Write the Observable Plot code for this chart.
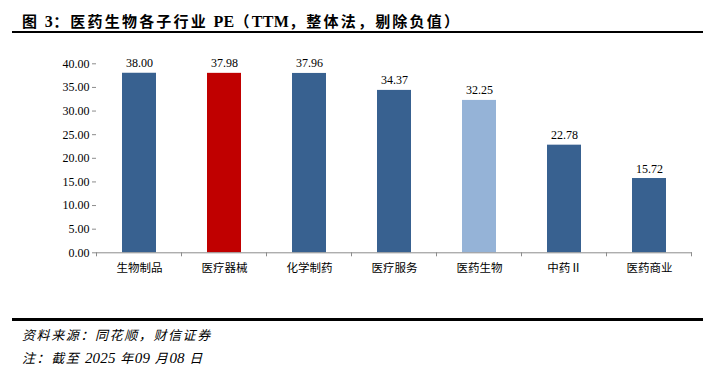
<!DOCTYPE html>
<html>
<head>
<meta charset="utf-8">
<script src="https://cdn.jsdelivr.net/npm/d3@7"></script>
<script src="https://cdn.jsdelivr.net/npm/@observablehq/plot@0.6"></script>
<style>
  html, body { margin: 0; padding: 0; background: #fff; }
  #wrap { position: relative; width: 716px; height: 378px; overflow: hidden; }
  #title { position: absolute; left: 22px; top: 10px; font-family: "Noto Sans CJK SC", "Liberation Serif", serif; font-weight: bold; font-size: 15px; letter-spacing: 2.2px; color: #000; white-space: nowrap; }
  #title .num { font-family: "Liberation Serif", serif; font-size: 16px; letter-spacing: 0.3px; }
  .rule { position: absolute; left: 12px; width: 691px; background: #000; }
  #chart { position: absolute; left: 0; top: 40px; }
  .cap { position: absolute; left: 22px; font-family: "Noto Sans CJK SC", serif; font-style: italic; font-size: 13px; letter-spacing: 1.6px; color: #000; white-space: nowrap; }
  .cap .num { font-family: "Liberation Serif", serif; font-size: 15px; letter-spacing: 0.2px; }
</style>
</head>
<body>
<div id="wrap">
  <div id="title">图 <span class="num">3</span>：医药生物各子行业 <span class="num">PE</span>（<span class="num">TTM</span>，整体法，剔除负值）</div>
  <div class="rule" style="top:31px;height:2px;"></div>
  <div id="chart"></div>
  <div class="rule" style="top:318px;height:3px;"></div>
  <div class="cap" style="top:325px;">资料来源：同花顺，财信证券</div>
  <div class="cap" style="top:348px;">注：截至 <span class="num">2025</span> 年<span class="num">09</span> 月<span class="num">08</span> 日</div>
</div>
<script>
const categories = ["生物制品", "医疗器械", "化学制药", "医疗服务", "医药生物", "中药Ⅱ", "医药商业"];
const values = [38.00, 37.98, 37.96, 34.37, 32.25, 22.78, 15.72];
const barColors = ["#386190", "#c00000", "#386190", "#386190", "#95b3d7", "#386190", "#386190"];
const yTicks = [0, 5, 10, 15, 20, 25, 30, 35, 40];

const data = categories.map((c, i) => ({ cat: c, value: values[i], color: barColors[i] }));

const axisColor = "#8c8c8c";
const plot = Plot.plot({
  width: 716,
  height: 250,
  marginTop: 23.3,
  marginBottom: 37.7,
  marginLeft: 96,
  marginRight: 24,
  style: { fontFamily: "'Liberation Serif', serif", fontSize: "12px", color: "#000", background: "#fff" },
  x: { domain: categories, paddingInner: 0.6, paddingOuter: 0.3, label: null },
  y: { domain: [0, 40], label: null },
  marks: [
    Plot.barY(data, { x: "cat", y: "value", fill: "color" }),
    Plot.text(data, { x: "cat", y: "value", text: d => d.value.toFixed(2), lineAnchor: "bottom", dy: -6, fontSize: 12, fill: "#000" }),
    Plot.axisY({ ticks: yTicks, tickFormat: d => d.toFixed(2), tickSize: 4, tickPadding: 3, stroke: axisColor, fontSize: 12, fill: "#000" }),
    Plot.ruleX([0], { frameAnchor: "left", stroke: axisColor }),
    Plot.ruleY([0], { stroke: axisColor }),
    Plot.axisX({ tickSize: 0, tickPadding: 11, fontFamily: "'Noto Sans CJK SC', sans-serif", fontSize: 11.5, fill: "#000" })
  ]
});

// boundary ticks of the category axis, placed from the band scale
const xs = plot.scale("x");
const ys = plot.scale("y");
const off = xs.step * 0.3;
const y0 = ys.apply(0);
const g = d3.select(plot).append("g").attr("stroke", axisColor);
categories.forEach((c, i) => {
  const bx = xs.apply(c) - off;
  g.append("line").attr("x1", bx).attr("x2", bx).attr("y1", y0).attr("y2", y0 + 4);
});
const lastX = xs.apply(categories[categories.length - 1]) - off + xs.step;
g.append("line").attr("x1", lastX).attr("x2", lastX).attr("y1", y0).attr("y2", y0 + 4);

document.getElementById("chart").appendChild(plot);
</script>
</body>
</html>
